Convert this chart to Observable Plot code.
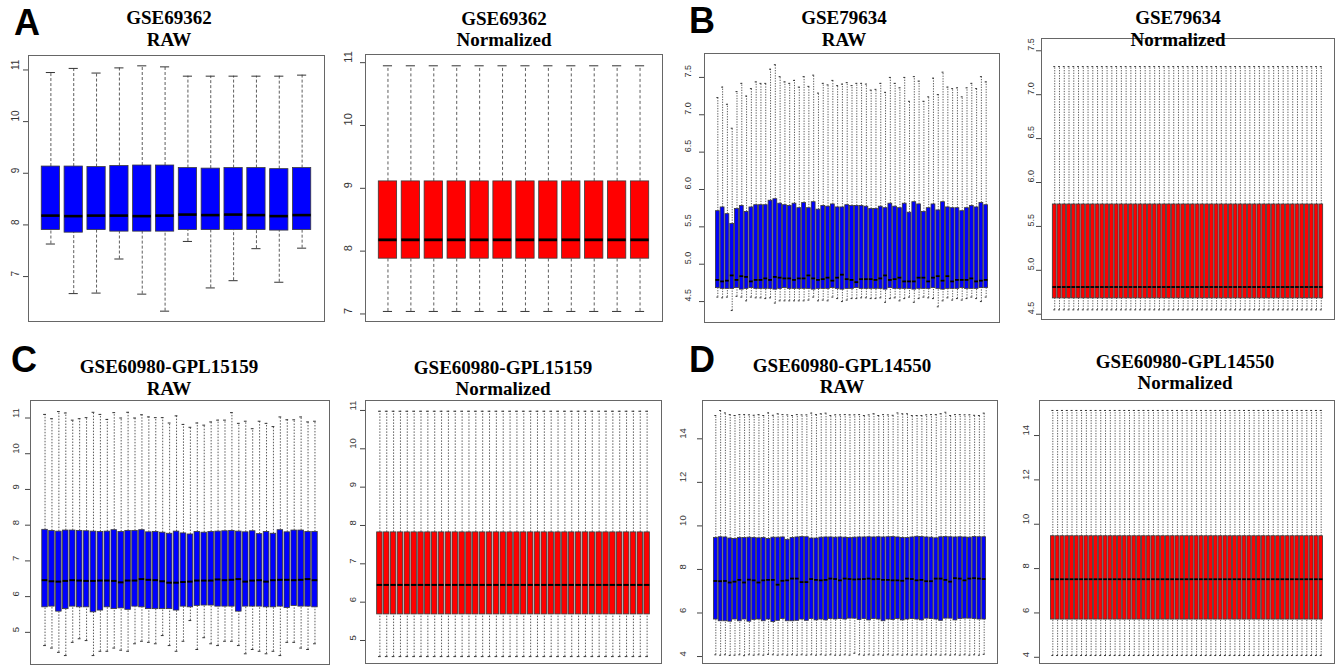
<!DOCTYPE html>
<html><head><meta charset="utf-8">
<script src="https://cdn.jsdelivr.net/npm/d3@7"></script>
<script src="https://cdn.jsdelivr.net/npm/@observablehq/plot@0.6"></script>
<style>
body{margin:0;background:#fff;}
#root{position:relative;width:1335px;height:666px;overflow:hidden;}
.panel{position:absolute;}
#ann{position:absolute;left:0;top:0;}
</style></head><body><div id="root"></div>
<script>
// ---------- A: GSE69362 ----------
const aRawHi  = [10.95,11.03,10.94,11.04,11.08,11.06,10.88,10.88,10.88,10.88,10.88,10.90];
const aRawQ3  = [9.13,9.13,9.12,9.14,9.15,9.15,9.10,9.09,9.10,9.10,9.08,9.10];
const aRawMed = [8.18,8.17,8.18,8.18,8.17,8.18,8.20,8.19,8.20,8.19,8.17,8.19];
const aRawQ1  = [7.90,7.85,7.90,7.87,7.87,7.87,7.90,7.90,7.90,7.90,7.89,7.90];
const aRawLo  = [7.63,6.67,6.68,7.34,6.66,6.33,7.68,6.78,6.92,7.54,6.89,7.55];
const aNormN = 12, aNormHi = 10.95, aNormQ3 = 9.11, aNormMed = 8.18, aNormQ1 = 7.88, aNormLo = 7.04;

// ---------- B: GSE79634 ----------
const bRawHi  = [7.23,7.37,7.14,6.82,7.31,7.42,7.25,7.35,7.44,7.42,7.42,7.61,7.67,7.51,7.44,7.42,7.46,7.37,7.51,7.38,7.53,7.29,7.42,7.40,7.46,7.39,7.41,7.43,7.39,7.42,7.42,7.41,7.33,7.34,7.42,7.30,7.50,7.42,7.36,7.50,7.18,7.51,7.45,7.18,7.24,7.49,7.27,7.57,7.37,7.35,7.36,7.24,7.36,7.42,7.35,7.51,7.44];
const bRawQ3  = [5.71,5.76,5.67,5.54,5.74,5.78,5.70,5.76,5.79,5.79,5.79,5.85,5.87,5.81,5.79,5.78,5.81,5.75,5.82,5.75,5.83,5.73,5.78,5.77,5.80,5.76,5.76,5.79,5.78,5.78,5.78,5.77,5.74,5.74,5.77,5.75,5.81,5.77,5.75,5.81,5.69,5.83,5.80,5.70,5.75,5.80,5.72,5.83,5.76,5.75,5.75,5.71,5.75,5.78,5.76,5.82,5.79];
const bRawMed = [4.79,4.77,4.78,4.85,4.79,4.84,4.83,4.77,4.79,4.79,4.81,4.79,4.83,4.82,4.81,4.81,4.79,4.81,4.81,4.85,4.81,4.79,4.80,4.82,4.78,4.82,4.86,4.80,4.79,4.76,4.80,4.80,4.80,4.79,4.81,4.85,4.79,4.80,4.82,4.77,4.77,4.77,4.82,4.82,4.77,4.82,4.84,4.78,4.84,4.77,4.79,4.79,4.79,4.81,4.77,4.78,4.79];
const bRawQ1  = [4.68,4.67,4.67,4.67,4.68,4.66,4.67,4.68,4.67,4.67,4.67,4.67,4.66,4.67,4.68,4.67,4.67,4.67,4.67,4.67,4.66,4.67,4.67,4.67,4.68,4.67,4.66,4.67,4.67,4.68,4.67,4.67,4.67,4.67,4.67,4.66,4.68,4.67,4.67,4.67,4.67,4.66,4.67,4.67,4.67,4.68,4.67,4.66,4.67,4.67,4.67,4.68,4.67,4.67,4.67,4.68,4.68];
const bRawLo  = [4.56,4.55,4.56,4.38,4.57,4.56,4.51,4.56,4.55,4.55,4.54,4.55,4.48,4.51,4.51,4.51,4.51,4.51,4.51,4.52,4.56,4.51,4.52,4.51,4.56,4.54,4.50,4.52,4.54,4.54,4.55,4.55,4.54,4.54,4.55,4.49,4.54,4.55,4.51,4.54,4.56,4.49,4.54,4.56,4.55,4.54,4.43,4.51,4.55,4.52,4.54,4.52,4.54,4.56,4.54,4.50,4.56];
const bNormN = 57, bNormHi = 7.32, bNormQ3 = 5.75, bNormMed = 4.81, bNormQ1 = 4.68, bNormLo = 4.55;

// ---------- C: GSE60980-GPL15159 ----------
const cRawHi  = [11.10,10.98,11.18,11.14,10.94,10.98,11.01,11.16,11.10,10.96,11.15,11.00,11.16,11.00,11.09,11.03,11.01,11.01,10.86,11.06,10.82,10.74,10.86,10.80,10.89,10.94,10.94,11.15,10.85,10.91,10.70,10.91,10.85,10.76,11.03,10.95,10.95,11.03,10.89,10.91];
const cRawQ3  = [7.87,7.84,7.82,7.85,7.85,7.84,7.83,7.82,7.81,7.82,7.86,7.81,7.84,7.84,7.86,7.80,7.81,7.79,7.76,7.82,7.77,7.74,7.81,7.79,7.81,7.82,7.83,7.84,7.82,7.80,7.83,7.75,7.81,7.76,7.86,7.80,7.85,7.85,7.81,7.81];
const cRawMed = [6.46,6.43,6.42,6.44,6.46,6.45,6.44,6.44,6.45,6.45,6.44,6.40,6.45,6.45,6.49,6.47,6.46,6.43,6.39,6.39,6.41,6.42,6.45,6.45,6.45,6.48,6.46,6.47,6.49,6.42,6.45,6.46,6.42,6.46,6.47,6.47,6.46,6.47,6.49,6.46];
const cRawQ1  = [5.70,5.72,5.58,5.65,5.72,5.70,5.70,5.56,5.61,5.70,5.65,5.67,5.63,5.72,5.70,5.65,5.65,5.65,5.65,5.61,5.72,5.70,5.74,5.75,5.75,5.72,5.72,5.72,5.58,5.72,5.72,5.72,5.70,5.70,5.72,5.68,5.74,5.72,5.72,5.70];
const cRawLo  = [4.63,4.56,4.44,4.35,4.72,4.82,4.77,4.35,4.47,4.47,4.56,4.50,4.47,4.68,4.75,4.72,4.68,4.91,4.63,4.47,4.75,5.33,4.52,4.85,4.68,4.63,4.75,4.75,4.63,4.40,4.52,4.47,4.40,4.47,4.35,4.72,4.72,4.56,4.52,4.68];
const cNormN = 40, cNormHi = 10.98, cNormQ3 = 7.82, cNormMed = 6.45, cNormQ1 = 5.68, cNormLo = 4.58;

// ---------- D: GSE60980-GPL14550 ----------
const dRawHi  = [15.07,15.30,15.19,15.11,15.07,15.11,15.11,15.10,15.08,15.11,15.07,15.19,15.08,15.15,15.11,15.10,15.07,15.11,15.10,15.10,15.18,15.11,15.15,15.18,15.07,15.10,15.10,15.11,15.10,15.10,15.11,15.07,15.10,15.15,15.07,15.11,15.10,15.08,15.19,15.15,15.15,15.07,15.07,15.07,15.10,15.11,15.11,15.15,15.22,15.07,15.11,15.11,15.10,15.10,15.08,15.07,15.18];
const dRawQ3  = [9.45,9.48,9.47,9.42,9.40,9.45,9.44,9.46,9.45,9.43,9.45,9.40,9.46,9.46,9.47,9.36,9.45,9.47,9.49,9.48,9.42,9.42,9.46,9.47,9.47,9.46,9.47,9.46,9.44,9.46,9.47,9.47,9.48,9.47,9.48,9.47,9.48,9.49,9.47,9.45,9.44,9.47,9.50,9.49,9.47,9.46,9.43,9.48,9.49,9.48,9.47,9.48,9.47,9.46,9.49,9.48,9.48];
const dRawMed = [7.47,7.46,7.47,7.40,7.44,7.52,7.40,7.53,7.50,7.40,7.50,7.52,7.52,7.30,7.48,7.50,7.58,7.58,7.42,7.42,7.56,7.52,7.50,7.52,7.58,7.56,7.50,7.58,7.56,7.54,7.55,7.56,7.58,7.55,7.56,7.52,7.52,7.50,7.50,7.48,7.58,7.56,7.50,7.52,7.46,7.46,7.58,7.58,7.52,7.44,7.60,7.58,7.50,7.58,7.60,7.58,7.56];
const dRawQ1  = [5.70,5.62,5.62,5.60,5.70,5.62,5.70,5.60,5.68,5.70,5.62,5.70,5.58,5.64,5.72,5.62,5.62,5.64,5.70,5.64,5.72,5.66,5.70,5.66,5.72,5.70,5.72,5.70,5.74,5.74,5.68,5.72,5.66,5.72,5.70,5.62,5.70,5.68,5.72,5.66,5.70,5.72,5.70,5.66,5.74,5.72,5.70,5.64,5.74,5.74,5.66,5.72,5.74,5.74,5.72,5.70,5.70];
const dRawLo  = [4.08,4.06,4.08,4.05,4.06,4.08,4.04,4.08,4.06,4.08,4.06,4.10,4.08,4.06,4.08,4.06,4.08,4.06,4.08,4.06,4.08,4.06,4.08,4.06,4.08,4.06,4.06,4.08,4.06,4.15,4.08,4.06,4.08,4.06,4.08,4.06,4.08,4.06,4.08,4.06,4.08,4.06,4.08,4.06,4.08,4.06,4.08,4.06,4.08,4.06,4.08,4.06,4.08,4.06,4.08,4.06,4.10];
const dNormN = 57, dNormHi = 15.13, dNormQ3 = 9.46, dNormMed = 7.52, dNormQ1 = 5.70, dNormLo = 4.08;

const BLUE = "#0000ff", RED = "#ff0000";

function repeat(n, v) { return Array.from({length: n}, () => v); }

const panels = [
  {title:["GSE69362","RAW"], tx:169, ty:[24.25,45.75], L:28, R:324, T:55, B:321, domain:[6.13,11.28], ticks:[7,8,9,10,11], fmt:d=>d3.format("d")(d), fill:BLUE, dx:-13, fs:10,
   lo:aRawLo, q1:aRawQ1, med:aRawMed, q3:aRawQ3, hi:aRawHi, dash:"3,2", medW:2.6},
  {title:["GSE69362","Normalized"], tx:504, ty:[24.9,46.4], L:365, R:662, T:54, B:321, domain:[6.88,11.13], ticks:[7,8,9,10,11], fmt:d=>d3.format("d")(d), fill:RED, dx:-17, fs:11,
   lo:repeat(aNormN,aNormLo), q1:repeat(aNormN,aNormQ1), med:repeat(aNormN,aNormMed), q3:repeat(aNormN,aNormQ3), hi:repeat(aNormN,aNormHi), dash:"3,2.5", medW:2.8},
  {title:["GSE79634","RAW"], tx:844, ty:[24.25,45.75], L:704, R:999, T:53, B:322, domain:[4.22,7.82], ticks:[4.5,5,5.5,6,6.5,7,7.5], fmt:d=>d3.format(".1f")(d), fill:BLUE, dx:-16, fs:9,
   lo:bRawLo, q1:bRawQ1, med:bRawMed, q3:bRawQ3, hi:bRawHi, dash:"1.3,1.3", medW:1.8},
  {title:["GSE79634","Normalized"], tx:1178, ty:[24.25,45.75], L:1041, R:1334, T:38, B:319, domain:[4.44,7.64], ticks:[4.5,5,5.5,6,6.5,7,7.5], fmt:d=>d3.format(".1f")(d), fill:RED, dx:-10, fs:9,
   lo:repeat(bNormN,bNormLo), q1:repeat(bNormN,bNormQ1), med:repeat(bNormN,bNormMed), q3:repeat(bNormN,bNormQ3), hi:repeat(bNormN,bNormHi), dash:"1.3,1.3", medW:1.8},
  {title:["GSE60980-GPL15159","RAW"], tx:169, ty:[373.25,394.75], L:30, R:329, T:400, B:664, domain:[4.10,11.49], ticks:[5,6,7,8,9,10,11], fmt:d=>d3.format("d")(d), fill:BLUE, dx:-15, fs:9.5,
   lo:cRawLo, q1:cRawQ1, med:cRawMed, q3:cRawQ3, hi:cRawHi, dash:"1.5,1.5", medW:2},
  {title:["GSE60980-GPL15159","Normalized"], tx:503, ty:[373.5,395], L:365, R:661, T:400, B:663, domain:[4.40,11.26], ticks:[5,6,7,8,9,10,11], fmt:d=>d3.format("d")(d), fill:RED, dx:-13, fs:9.5,
   lo:repeat(cNormN,cNormLo), q1:repeat(cNormN,cNormQ1), med:repeat(cNormN,cNormMed), q3:repeat(cNormN,cNormQ3), hi:repeat(cNormN,cNormHi), dash:"1.5,1.5", medW:2},
  {title:["GSE60980-GPL14550","RAW"], tx:842, ty:[371.75,393.25], L:702, R:997, T:400, B:663, domain:[3.68,15.76], ticks:[4,6,8,10,12,14], fmt:d=>d3.format("d")(d), fill:BLUE, dx:-20, fs:9.5,
   lo:dRawLo, q1:dRawQ1, med:dRawMed, q3:dRawQ3, hi:dRawHi, dash:"1.3,1.3", medW:1.8},
  {title:["GSE60980-GPL14550","Normalized"], tx:1185, ty:[367.75,389.25], L:1039, R:1334, T:400, B:663, domain:[3.72,15.58], ticks:[4,6,8,10,12,14], fmt:d=>d3.format("d")(d), fill:RED, dx:-14, fs:9.5,
   lo:repeat(dNormN,dNormLo), q1:repeat(dNormN,dNormQ1), med:repeat(dNormN,dNormMed), q3:repeat(dNormN,dNormQ3), hi:repeat(dNormN,dNormHi), dash:"1.3,1.3", medW:1.8}
];

const root = document.getElementById("root");
const ML = 34;

for (const p of panels) {
  const n = p.lo.length;
  const data = p.lo.map((_, k) => ({i: k + 1, lo: p.lo[k], q1: p.q1[k], med: p.med[k], q3: p.q3[k], hi: p.hi[k]}));
  const pad = 0.04 * n;
  const width = p.R - p.L + ML + 1;
  const height = p.B - p.T + 2;
  const svg = Plot.plot({
    width, height,
    marginLeft: ML, marginRight: 1, marginTop: 1, marginBottom: 1,
    x: {domain: [0.5 - pad, n + 0.5 + pad], axis: null},
    y: {domain: p.domain, axis: null},
    style: {background: "transparent", overflow: "visible", fontFamily: "'Liberation Sans', Arial, sans-serif"},
    marks: [
      Plot.ruleX(data, {x: "i", y1: "q3", y2: "hi", stroke: "#333", strokeWidth: 0.8, strokeDasharray: p.dash}),
      Plot.ruleX(data, {x: "i", y1: "lo", y2: "q1", stroke: "#333", strokeWidth: 0.8, strokeDasharray: p.dash}),
      Plot.ruleY(data, {y: "hi", x1: d => d.i - 0.2, x2: d => d.i + 0.2, stroke: "#333", strokeWidth: 1}),
      Plot.ruleY(data, {y: "lo", x1: d => d.i - 0.2, x2: d => d.i + 0.2, stroke: "#333", strokeWidth: 1}),
      Plot.rect(data, {x1: d => d.i - 0.4, x2: d => d.i + 0.4, y1: "q1", y2: "q3", fill: p.fill, stroke: "#3a3a3a", strokeWidth: 0.8}),
      Plot.ruleY(data, {y: "med", x1: d => d.i - 0.4, x2: d => d.i + 0.4, stroke: "#000", strokeWidth: p.medW}),
      Plot.frame({stroke: "#666", strokeWidth: 1}),
      Plot.axisY({ticks: p.ticks, tickSize: 5, tickFormat: () => "", stroke: "#444"}),
      Plot.text(p.ticks, {y: d => d, frameAnchor: "left", dx: p.dx, rotate: -90, text: p.fmt, fontSize: p.fs, fill: "#333"})
    ]
  });
  const div = document.createElement("div");
  div.className = "panel";
  div.style.left = (p.L - ML) + "px";
  div.style.top = (p.T - 1) + "px";
  div.appendChild(svg);
  root.appendChild(div);
}

// Titles and panel letters
const NS = "http://www.w3.org/2000/svg";
const ann = document.createElementNS(NS, "svg");
ann.setAttribute("id", "ann");
ann.setAttribute("width", 1335);
ann.setAttribute("height", 666);
function setAttrs(el, attrs) { for (const k in attrs) el.setAttribute(k, attrs[k]); }
const titleAttrs = {"text-anchor": "middle", "font-family": "'Liberation Serif', 'Times New Roman', serif", "font-weight": "bold", "font-size": "19px", fill: "#000"};
for (const p of panels) {
  p.title.forEach((line, k) => {
    const t = document.createElementNS(NS, "text");
    setAttrs(t, titleAttrs);
    setAttrs(t, {x: p.tx, y: p.ty[k]});
    t.textContent = line;
    ann.appendChild(t);
  });
}
const letters = [["A", 14, 35], ["B", 689, 33], ["C", 11, 372], ["D", 689, 372]];
for (const [s, x, y] of letters) {
  const t = document.createElementNS(NS, "text");
  setAttrs(t, {x, y, "font-family": "'Liberation Sans', Arial, sans-serif", "font-weight": "bold", "font-size": "36px", fill: "#000"});
  t.textContent = s;
  ann.appendChild(t);
}
root.appendChild(ann);
</script></body></html>
